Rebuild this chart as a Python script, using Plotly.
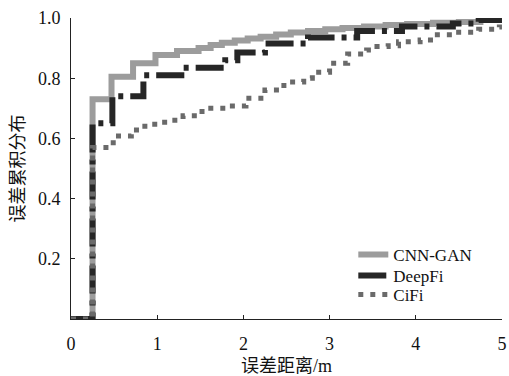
import plotly.graph_objects as go

# Step positions (error distance, m) and cumulative levels for each method
cnn_gan_x = [0, 0.25, 0.47, 0.72, 0.98, 1.23, 1.48, 1.62, 1.75, 1.9, 2.05, 2.2,
             2.38, 2.55, 2.75, 2.95, 3.15, 3.4, 3.65, 3.9, 4.2, 4.5, 4.75, 5.0]
cnn_gan_y = [0, 0.73, 0.805, 0.85, 0.877, 0.89, 0.90, 0.91, 0.918, 0.925, 0.932,
             0.938, 0.945, 0.952, 0.957, 0.963, 0.967, 0.972, 0.977, 0.98, 0.984,
             0.987, 0.994, 0.994]

deepfi_x = [0, 0.25, 0.48, 0.84, 1.28, 1.79, 1.93, 2.25, 2.75, 3.32, 3.84, 4.43,
            4.73, 5.0]
deepfi_y = [0, 0.65, 0.74, 0.81, 0.835, 0.86, 0.885, 0.915, 0.935, 0.957, 0.972,
            0.982, 0.993, 0.993]

cifi_x = [0, 0.25, 0.49, 0.70, 0.80, 0.93, 1.05, 1.17, 1.30, 1.52, 1.80, 2.03,
          2.25, 2.47, 2.70, 2.80, 3.00, 3.21, 3.43, 3.55, 3.68, 3.80, 4.05, 4.20,
          4.45, 4.73, 4.97, 5.0]
cifi_y = [0, 0.57, 0.608, 0.628, 0.64, 0.647, 0.654, 0.66, 0.675, 0.70, 0.708,
          0.733, 0.761, 0.787, 0.80, 0.82, 0.85, 0.88, 0.894, 0.905, 0.908,
          0.921, 0.927, 0.944, 0.953, 0.963, 0.97, 0.97]

x_ticks = [0, 1, 2, 3, 4, 5]
y_ticks = [0.2, 0.4, 0.6, 0.8, 1.0]
y_tick_text = ["0.2", "0.4", "0.6", "0.8", "1.0"]

SERIF = "Liberation Serif, Noto Sans CJK SC, serif"
INK = "#111111"

fig = go.Figure()
fig.add_trace(go.Scatter(
    x=cnn_gan_x, y=cnn_gan_y, name="CNN-GAN", mode="lines", legend="legend",
    line=dict(shape="hv", color="#9c9c9c", width=6),
))
fig.add_trace(go.Scatter(
    x=deepfi_x, y=deepfi_y, name="DeepFi", mode="lines", legend="legend2",
    line=dict(shape="hv", color="#262626", width=6, dash="28px,7px,5px,7px"),
))
fig.add_trace(go.Scatter(
    x=cifi_x, y=cifi_y, name="CiFi", mode="lines", legend="legend3",
    line=dict(shape="hv", color="#6a6a6a", width=5, dash="5px,7px"),
))

# one legend box per entry so the rows sit tightly stacked
legend_style = dict(x=0.655, xanchor="left", yanchor="middle",
                    bgcolor="rgba(0,0,0,0)", borderwidth=0,
                    font=dict(family=SERIF, size=17, color=INK))

fig.update_layout(
    width=509, height=376,
    margin=dict(l=71, r=3, t=18, b=57),
    paper_bgcolor="white", plot_bgcolor="white",
    font=dict(family=SERIF, size=18, color=INK),
    showlegend=True,
    legend=dict(y=0.213, **legend_style),
    legend2=dict(y=0.143, **legend_style),
    legend3=dict(y=0.080, **legend_style),
)
fig.update_xaxes(
    range=[0, 5.0005], tickvals=x_ticks, ticktext=[str(v) for v in x_ticks],
    ticks="inside", ticklen=4, tickcolor="#222", showgrid=False, zeroline=False,
    showline=True, linecolor="#222", linewidth=1, ticklabelstandoff=8,
    tickfont=dict(family=SERIF, size=18), ticklabeloverflow="allow",
    title=dict(text="误差距离/m", font=dict(family=SERIF, size=18), standoff=6),
)
fig.update_yaxes(
    range=[0, 1.0], tickvals=y_ticks, ticktext=y_tick_text,
    ticks="inside", ticklen=4, tickcolor="#222", showgrid=False, zeroline=False,
    showline=True, linecolor="#222", linewidth=1, ticklabelstandoff=6,
    tickfont=dict(family=SERIF, size=18),
    title=dict(text="误差累积分布", font=dict(family=SERIF, size=18), standoff=8),
)

fig.write_html("out.html")
